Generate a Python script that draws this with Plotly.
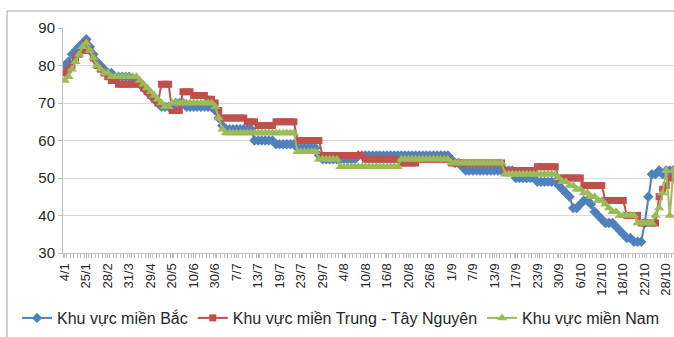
import plotly.graph_objects as go

# Category positions (one per observation) and the dates shown on the axis
n_points = 172
tick_labels = ["4/1", "25/1", "28/2", "31/3", "29/4", "20/5", "10/6", "30/6", "7/7",
               "13/7", "19/7", "23/7", "29/7", "4/8", "10/8", "16/8", "20/8", "26/8",
               "1/9", "7/9", "13/9", "17/9", "23/9", "30/9", "6/10", "12/10", "18/10",
               "22/10", "28/10"]
label_step = 6

# Khu vực miền Bắc
mien_bac = [
    80, 81, 83, 84, 85, 86, 87, 85, 83, 81, 80, 79, 78, 78, 77, 77, 77, 77, 77, 76,
    76, 75, 74, 73, 72, 71, 70, 69, 69, 69, 69, 70, 70, 70, 69, 69, 69, 69, 69, 69,
    69, 69, 68, 66, 64, 63, 63, 63, 63, 63, 63, 63, 63, 60, 60, 60, 60, 60, 60, 59,
    59, 59, 59, 59, 59, 58, 58, 58, 58, 58, 58, 56, 55, 55, 55, 55, 55, 55, 55, 55,
    55, 55, 56, 56, 56, 56, 56, 56, 56, 56, 56, 56, 56, 56, 56, 56, 56, 56, 56, 56,
    56, 56, 56, 56, 56, 56, 56, 56, 55, 54, 54, 53, 52, 52, 52, 52, 52, 52, 52, 52,
    52, 52, 52, 52, 52, 52, 50, 50, 50, 50, 50, 50, 49, 49, 49, 49, 49, 49, 48, 47,
    46, 45, 42, 42, 43, 44, 44, 43, 41, 40, 39, 38, 38, 38, 37, 36, 35, 34, 34, 33,
    33, 33, 38, 45, 51, 51, 52, 51, 52, 52, 52, 52,
]

# Khu vực miền Trung - Tây Nguyên
mien_trung = [
    78, 79, 80, 82, 83, 84, 86, 84, 82, 80, 79, 78, 77, 76, 76, 75, 75, 75, 75, 75,
    75, 75, 74, 73, 72, 71, 70, 75, 75, 75, 68, 68, 68, 73, 73, 73, 72, 72, 72, 72,
    71, 71, 70, 68, 66, 66, 66, 66, 66, 66, 66, 65, 65, 65, 64, 64, 64, 64, 64, 65,
    65, 65, 65, 65, 65, 60, 60, 60, 60, 60, 60, 60, 56, 56, 56, 56, 56, 56, 56, 56,
    56, 56, 56, 56, 55, 55, 55, 55, 55, 55, 55, 55, 55, 55, 54, 54, 54, 54, 54, 55,
    55, 55, 55, 55, 55, 55, 55, 55, 54, 54, 54, 54, 54, 54, 54, 54, 54, 54, 54, 54,
    54, 54, 54, 52, 52, 52, 52, 52, 52, 52, 52, 52, 53, 53, 53, 53, 53, 53, 50, 50,
    50, 50, 50, 50, 50, 48, 48, 48, 48, 48, 48, 44, 44, 44, 44, 44, 44, 40, 40, 40,
    40, 38, 38, 38, 38, 38, 45, 47, 48, 50, 50, 50,
]

# Khu vực miền Nam
mien_nam = [
    76, 77, 79, 81, 83, 85, 86, 84, 82, 80, 79, 78, 78, 77, 77, 77, 77, 77, 77, 77,
    77, 76, 75, 74, 73, 72, 71, 70, 69, 69, 70, 70, 70, 70, 70, 70, 70, 70, 70, 70,
    70, 70, 69, 66, 63, 62, 62, 62, 62, 62, 62, 62, 62, 62, 62, 62, 62, 62, 62, 62,
    62, 62, 62, 62, 62, 57, 57, 57, 57, 57, 57, 55, 55, 55, 55, 55, 55, 53, 53, 53,
    53, 53, 53, 53, 53, 53, 53, 53, 53, 53, 53, 53, 53, 53, 55, 55, 55, 55, 55, 55,
    55, 55, 55, 55, 55, 55, 55, 55, 54, 54, 54, 54, 54, 54, 54, 54, 54, 54, 54, 54,
    54, 54, 54, 51, 51, 51, 51, 51, 51, 51, 51, 51, 51, 51, 51, 51, 51, 51, 50, 49,
    49, 48, 48, 47, 47, 46, 46, 45, 45, 44, 44, 43, 42, 41, 41, 40, 40, 40, 40, 40,
    38, 38, 38, 38, 38, 40, 42, 46, 52, 40, 52, 52,
]

x = list(range(n_points))
tick_positions = [i * label_step for i in range(len(tick_labels))]

series = [
    ("Khu vực miền Bắc", mien_bac, "#4F81BD", "diamond", 8),
    ("Khu vực miền Trung - Tây Nguyên", mien_trung, "#C0504D", "square", 7),
    ("Khu vực miền Nam", mien_nam, "#9BBB59", "triangle-up", 9),
]

fig = go.Figure()
for name, values, color, symbol, size in series:
    fig.add_trace(go.Scatter(
        x=x, y=values, name=name, mode="lines+markers",
        line=dict(color=color, width=2),
        marker=dict(symbol=symbol, size=size, color=color, line=dict(width=0)),
    ))

W, H = 674, 337
ml, mr, mt, mb = 63, 0, 28, 84
pw, ph = W - ml - mr, H - mt - mb
cat_px = 3.58

# Light grey frame around the whole chart area
fig.add_shape(type="rect", xref="paper", yref="paper",
              x0=(7 - ml) / pw, x1=1.05,
              y0=-(mb + 10) / ph, y1=1 + (mt - 11) / ph,
              line=dict(color="#A6A6A6", width=1), fillcolor="rgba(0,0,0,0)",
              layer="below")

fig.update_layout(
    width=W, height=H,
    margin=dict(l=ml, r=mr, t=mt, b=mb, pad=0, autoexpand=False),
    paper_bgcolor="white", plot_bgcolor="white",
    font=dict(family="Liberation Sans, Arial, sans-serif", color="#333333"),
    showlegend=True,
    legend=dict(orientation="h", x=(17 - ml) / pw, xanchor="left",
                y=-(318 - (mt + ph)) / ph, yanchor="middle",
                font=dict(size=16, color="#262626"), itemwidth=30,
                tracegroupgap=0, bgcolor="rgba(0,0,0,0)"),
    xaxis=dict(
        range=[-0.5, -0.5 + pw / cat_px],
        tickmode="array", tickvals=tick_positions, ticktext=tick_labels,
        tickangle=-90, tickfont=dict(size=13, color="#262626"),
        ticks="outside", ticklen=4, tickcolor="#BFBFBF",
        minor=dict(tickmode="linear", tick0=-0.5, dtick=1, ticks="outside",
                   ticklen=4, tickcolor="#BFBFBF"),
        showline=True, linecolor="#BFBFBF", linewidth=1,
        showgrid=False, zeroline=False, fixedrange=True,
    ),
    yaxis=dict(
        range=[30, 90], dtick=10, tick0=30,
        tickfont=dict(size=15, color="#262626"),
        ticks="outside", ticklen=4, tickcolor="#BFBFBF",
        showline=True, linecolor="#BFBFBF", linewidth=1,
        showgrid=True, gridcolor="#D9D9D9", gridwidth=1,
        zeroline=False, fixedrange=True,
    ),
)

fig.write_html("out.html")
